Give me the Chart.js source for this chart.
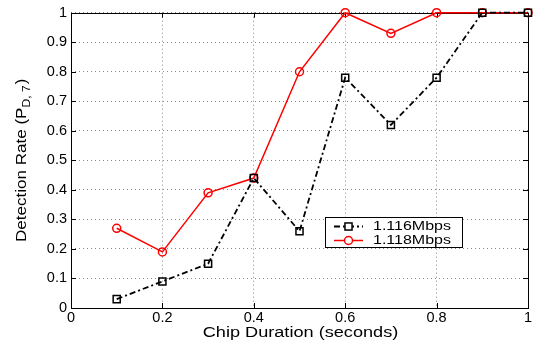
<!DOCTYPE html>
<html>
<head>
<meta charset="utf-8">
<script src="https://cdn.jsdelivr.net/npm/chart.js@4/dist/chart.umd.min.js"></script>
<style>
  html, body { margin: 0; padding: 0; background: #fff; }
  #wrap { width: 540px; height: 349px; }
</style>
</head>
<body>
<div id="wrap"><canvas id="c" width="540" height="349"></canvas></div>
<script>
// Chip durations (seconds) and detection rates for the two data rates
const chipDuration = [0.1, 0.2, 0.3, 0.4, 0.5, 0.6, 0.7, 0.8, 0.9, 1.0];
const rate1116 = [0.03, 0.09, 0.15, 0.44, 0.26, 0.78, 0.62, 0.78, 1.0, 1.0];
const rate1118 = [0.27, 0.19, 0.39, 0.44, 0.80, 1.0, 0.93, 1.0, 1.0, 1.0];
const seriesNames = ['1.116Mbps', '1.118Mbps'];
const xTickValues = [0, 0.2, 0.4, 0.6, 0.8, 1];
const yTickValues = [0, 0.1, 0.2, 0.3, 0.4, 0.5, 0.6, 0.7, 0.8, 0.9, 1];

const FONT = "'Liberation Sans', Arial, Helvetica, sans-serif";

function toPoints(ys) {
  return chipDuration.map((x, i) => ({ x: x, y: ys[i] }));
}
function fmt(v) {
  return String(Math.round(v * 10) / 10);
}

// Text drawn with a slight horizontal stretch (wide Helvetica look)
function wideText(ctx, text, x, y, size, k, align) {
  ctx.save();
  ctx.font = size + 'px ' + FONT;
  ctx.textAlign = align || 'left';
  ctx.translate(x, y);
  ctx.scale(k, 1);
  ctx.fillText(text, 0, 0);
  ctx.restore();
}

// Box frame, inward tick marks, axis titles and the legend panel
const framePlugin = {
  id: 'frame',
  beforeDatasetsDraw(chart) {
    const { ctx, chartArea: a, scales } = chart;
    ctx.save();
    ctx.strokeStyle = '#000';
    ctx.lineWidth = 1;
    ctx.setLineDash([]);
    ctx.beginPath();
    const tl = 5;
    xTickValues.forEach(v => {
      const px = Math.round(scales.x.getPixelForValue(v)) + 0.5;
      ctx.moveTo(px, a.bottom); ctx.lineTo(px, a.bottom - tl);
      ctx.moveTo(px, a.top); ctx.lineTo(px, a.top + tl);
    });
    yTickValues.forEach(v => {
      const py = Math.round(scales.y.getPixelForValue(v)) + 0.5;
      ctx.moveTo(a.left, py); ctx.lineTo(a.left + tl, py);
      ctx.moveTo(a.right, py); ctx.lineTo(a.right - tl, py);
    });
    ctx.stroke();
    ctx.strokeRect(Math.round(a.left) + 0.5, Math.round(a.top) + 0.5,
                   Math.round(a.right - a.left), Math.round(a.bottom - a.top));
    ctx.restore();
  },
  afterDraw(chart) {
    const { ctx, chartArea: a, data } = chart;
    ctx.save();
    ctx.fillStyle = '#000';
    ctx.textBaseline = 'alphabetic';

    // x-axis title
    wideText(ctx, 'Chip Duration (seconds)', (a.left + a.right) / 2 + 1, 337, 15.5, 1.17, 'center');

    // y-axis title with subscript, rotated
    ctx.save();
    ctx.translate(26, (a.top + a.bottom) / 2);
    ctx.rotate(-Math.PI / 2);
    ctx.scale(1.1, 1);
    const main = 'Detection Rate (P';
    const sub = 'D, 7';
    const close = ')';
    ctx.font = '15.5px ' + FONT;
    const wMain = ctx.measureText(main).width;
    const wClose = ctx.measureText(close).width;
    ctx.font = '11px ' + FONT;
    const wSub = ctx.measureText(sub).width;
    const total = wMain + wSub + wClose + 1;
    const x0 = -total / 2;
    ctx.textAlign = 'left';
    ctx.font = '15.5px ' + FONT;
    ctx.fillText(main, x0, 0);
    ctx.font = '11px ' + FONT;
    ctx.fillText(sub, x0 + wMain, 4);
    ctx.font = '15.5px ' + FONT;
    ctx.fillText(close, x0 + wMain + wSub + 1, 0);
    ctx.restore();

    // legend panel
    const lx = 325, ly = 217, lw = 137, lh = 30;
    ctx.fillStyle = '#fff';
    ctx.fillRect(lx, ly, lw, lh);
    ctx.strokeStyle = '#000';
    ctx.lineWidth = 1;
    ctx.strokeRect(lx + 0.5, ly + 0.5, lw, lh);
    const rows = [ly + 9.5, ly + 23.5];
    data.datasets.forEach((ds, i) => {
      const y = rows[i];
      ctx.strokeStyle = ds.borderColor;
      ctx.lineWidth = ds.borderWidth;
      ctx.setLineDash(ds.borderDash || []);
      ctx.beginPath();
      ctx.moveTo(334, y); ctx.lineTo(363, y);
      ctx.stroke();
      ctx.setLineDash([]);
      ctx.lineWidth = ds.pointBorderWidth;
      ctx.strokeStyle = ds.pointBorderColor;
      ctx.fillStyle = '#fff';
      const cx = 348.5;
      if (ds.pointStyle === 'rect') {
        const s = ds.pointRadius * Math.SQRT1_2;
        ctx.fillRect(cx - s, y - s, 2 * s, 2 * s);
        ctx.strokeRect(cx - s, y - s, 2 * s, 2 * s);
      } else {
        ctx.beginPath();
        ctx.arc(cx, y, ds.pointRadius, 0, Math.PI * 2);
        ctx.fill();
        ctx.stroke();
      }
      ctx.fillStyle = '#000';
      ctx.textBaseline = 'middle';
      wideText(ctx, ds.label, 373, y + 0.5, 12.5, 1.28, 'left');
    });
    ctx.restore();
  }
};

new Chart(document.getElementById('c'), {
  type: 'line',
  data: {
    datasets: [
      {
        label: seriesNames[0],
        data: toPoints(rate1116),
        borderColor: '#000',
        borderWidth: 1.8,
        borderDash: [6, 3, 2, 3],
        pointStyle: 'rect',
        pointRadius: 5,
        pointBorderWidth: 1.5,
        pointBorderColor: '#000',
        pointBackgroundColor: 'rgba(255,255,255,0)',
        tension: 0,
        fill: false,
        clip: false
      },
      {
        label: seriesNames[1],
        data: toPoints(rate1118),
        borderColor: '#f00',
        borderWidth: 1.5,
        pointStyle: 'circle',
        pointRadius: 4,
        pointBorderWidth: 1.5,
        pointBorderColor: '#f00',
        pointBackgroundColor: 'rgba(255,255,255,0)',
        tension: 0,
        fill: false,
        clip: false
      }
    ]
  },
  options: {
    responsive: false,
    animation: false,
    events: [],
    layout: { padding: { top: 10, right: 12, left: 0, bottom: 0 } },
    plugins: { legend: { display: false }, title: { display: false }, tooltip: { enabled: false } },
    scales: {
      x: {
        type: 'linear',
        min: 0, max: 1,
        afterBuildTicks: s => { s.ticks = xTickValues.map(v => ({ value: v })); },
        afterFit: s => { s.height = 41; },
        ticks: {
          color: '#000',
          font: { family: FONT, size: 14.5 },
          padding: 1,
          maxRotation: 0,
          autoSkip: false,
          callback: v => fmt(v)
        },
        grid: { color: '#888', lineWidth: 1, drawTicks: false },
        border: { display: false, dash: [1, 3] }
      },
      y: {
        type: 'linear',
        min: 0, max: 1,
        afterBuildTicks: s => { s.ticks = yTickValues.map(v => ({ value: v })); },
        afterFit: s => { s.width = 71; },
        ticks: {
          color: '#000',
          font: { family: FONT, size: 14.5 },
          padding: 4,
          autoSkip: false,
          callback: v => fmt(v)
        },
        grid: { color: '#888', lineWidth: 1, drawTicks: false },
        border: { display: false, dash: [1, 3] }
      }
    }
  },
  plugins: [framePlugin]
});
</script>
</body>
</html>
